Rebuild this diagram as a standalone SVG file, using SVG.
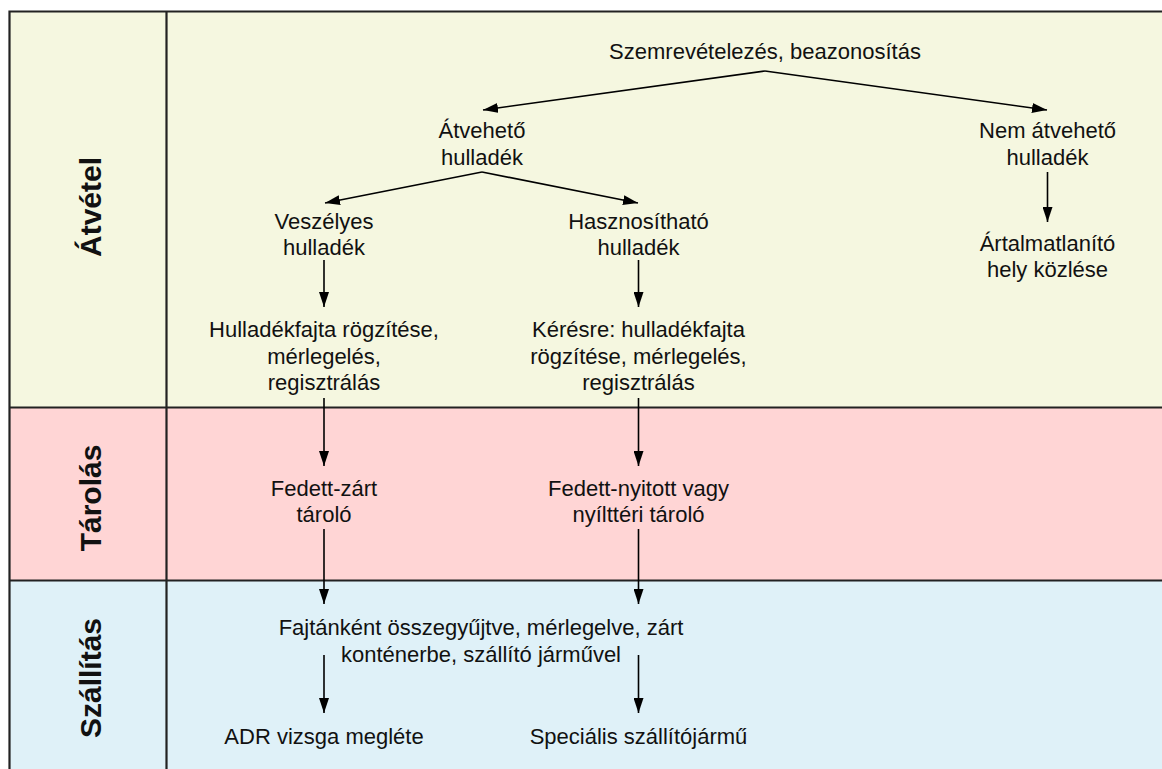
<svg xmlns="http://www.w3.org/2000/svg" width="1162" height="769" viewBox="0 0 1162 769">
  <style>
    .t { font-family: "Liberation Sans", Arial, sans-serif; font-size: 22px; fill: #111; text-anchor: middle; }
    .lane-title { font-family: "Liberation Sans", Arial, sans-serif; font-size: 30px; font-weight: bold; fill: #111; text-anchor: middle; }
    .edge { fill: none; stroke: #000; stroke-width: 1.6; marker-end: url(#arrow); }
    .grid { fill: none; stroke: #222; stroke-width: 2.2; }
  </style>
  <defs>
    <marker id="arrow" viewBox="0 0 15 10" refX="15" refY="5" markerWidth="15" markerHeight="10" markerUnits="userSpaceOnUse" orient="auto">
      <path d="M0,0 L15,5 L0,10 Z" fill="#000"/>
    </marker>
  </defs>
  <rect width="1162" height="769" fill="#ffffff"/>

  <!-- swimlane backgrounds -->
  <g id="lanes">
    <rect x="10" y="12" width="1152" height="396" fill="#f5f7e0"/>
    <rect x="10" y="408" width="1152" height="173" fill="#ffd5d5"/>
    <rect x="10" y="581" width="1152" height="188" fill="#dff1f8"/>
    <path class="grid" d="M9.5,769 V11.5 H1162 M166.5,11.5 V769 M9.5,407.5 H1162 M9.5,580.5 H1162"/>
    <text class="lane-title" transform="translate(101,207) rotate(-90)">Átvétel</text>
    <text class="lane-title" transform="translate(101,498) rotate(-90)">Tárolás</text>
    <text class="lane-title" transform="translate(101,678) rotate(-90)">Szállítás</text>
  </g>

  <!-- connectors -->
  <g id="connectors">
    <path class="edge" d="M765,71 L483,110"/>
    <path class="edge" d="M765,71 L1047,110"/>
    <path class="edge" d="M482,172 L325,203"/>
    <path class="edge" d="M482,172 L638,203"/>
    <path class="edge" d="M324,260 V307"/>
    <path class="edge" d="M638.5,260 V307"/>
    <path class="edge" d="M1047.5,172 V222"/>
    <path class="edge" d="M324,398 V466"/>
    <path class="edge" d="M638.5,398 V466"/>
    <path class="edge" d="M324,529 V604"/>
    <path class="edge" d="M638.5,529 V604"/>
    <path class="edge" d="M324,655 V713"/>
    <path class="edge" d="M638.5,655 V713"/>
  </g>

  <!-- nodes -->
  <g id="n-szemrevetelezes">
    <text class="t" x="765" y="59">Szemrevételezés, beazonosítás</text>
  </g>
  <g id="n-atveheto">
    <text class="t" x="482" y="138">Átvehető</text>
    <text class="t" x="482" y="165">hulladék</text>
  </g>
  <g id="n-nem-atveheto">
    <text class="t" x="1047.5" y="138">Nem átvehető</text>
    <text class="t" x="1047.5" y="165">hulladék</text>
  </g>
  <g id="n-artalmatlanito">
    <text class="t" x="1047.5" y="251">Ártalmatlanító</text>
    <text class="t" x="1047.5" y="277">hely közlése</text>
  </g>
  <g id="n-veszelyes">
    <text class="t" x="324" y="229">Veszélyes</text>
    <text class="t" x="324" y="255">hulladék</text>
  </g>
  <g id="n-hasznosithato">
    <text class="t" x="638.5" y="229">Hasznosítható</text>
    <text class="t" x="638.5" y="255">hulladék</text>
  </g>
  <g id="n-rogzites">
    <text class="t" x="324" y="337">Hulladékfajta rögzítése,</text>
    <text class="t" x="324" y="364">mérlegelés,</text>
    <text class="t" x="324" y="390">regisztrálás</text>
  </g>
  <g id="n-keresre">
    <text class="t" x="638.5" y="337">Kérésre: hulladékfajta</text>
    <text class="t" x="638.5" y="364">rögzítése, mérlegelés,</text>
    <text class="t" x="638.5" y="390">regisztrálás</text>
  </g>
  <g id="n-fedett-zart">
    <text class="t" x="324" y="496">Fedett-zárt</text>
    <text class="t" x="324" y="522">tároló</text>
  </g>
  <g id="n-fedett-nyitott">
    <text class="t" x="638.5" y="496">Fedett-nyitott vagy</text>
    <text class="t" x="638.5" y="522">nyílttéri tároló</text>
  </g>
  <g id="n-fajtankent">
    <text class="t" x="481" y="635">Fajtánként összegyűjtve, mérlegelve, zárt</text>
    <text class="t" x="481" y="662">konténerbe, szállító járművel</text>
  </g>
  <g id="n-adr">
    <text class="t" x="324" y="744">ADR vizsga megléte</text>
  </g>
  <g id="n-specialis">
    <text class="t" x="638.5" y="744">Speciális szállítójármű</text>
  </g>
</svg>
